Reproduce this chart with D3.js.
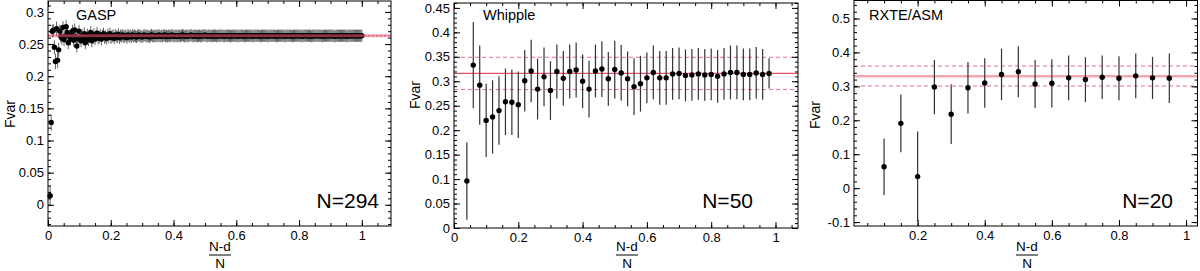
<!DOCTYPE html>
<html><head><meta charset="utf-8">
<script src="https://cdn.jsdelivr.net/npm/d3@7/dist/d3.min.js"></script>
<style>
html,body{margin:0;padding:0;background:#fff;}
svg{display:block;font-family:"Liberation Sans",Arial,Helvetica,sans-serif;}
</style>
</head><body>
<svg id="chart" width="1200" height="271"></svg>
<script>
// ---------------- DATA ----------------
// Panel 1: GASP (N = 294), x = (N-d)/N for d index k = 2..294
const gaspN = 294;
const gaspK0 = 2;
const gaspY = [
.014,.128,.270,.271,.245,.223,.274,.225,.241,.270,.262,.259,.276,.257,.262,.277,.268,.252,.262,.258,
.265,.270,.256,.272,.262,.247,.258,.270,.260,.255,.263,.258,.266,.252,.260,.264,.257,.262,.268,.255,
.260,.265,.258,.262,.267,.259,.261,.264,.258,.263,.266,.260,.262,.259,.264,.261,.266,.260,.262,.263,
.259,.264,.262,.261,.265,.260,.263,.262,.264,.261,.262,.263,.260,.264,.262,.263,.261,.264,.262,.263,
.262,.261,.263,.264,.262,.263,.261,.262,.264,.263,.262,.263,.262,.261,.263,.264,.262,.263,.262,.263,
.263,.262,.264,.262,.263,.262,.263,.264,.262,.263,.262,.263,.263,.262,.264,.263,.262,.263,.263,.262,
.263,.263,.262,.263,.264,.263,.262,.263,.263,.262,.263,.263,.264,.263,.262,.263,.263,.263,.262,.263,
.263,.262,.263,.263,.263,.264,.263,.262,.263,.263,.263,.262,.263,.263,.263,.263,.262,.263,.263,.263,
.263,.263,.263,.262,.263,.263,.263,.263,.263,.262,.263,.263,.263,.263,.263,.263,.262,.263,.263,.263,
.263,.263,.262,.263,.263,.263,.263,.263,.263,.263,.262,.263,.263,.263,.263,.263,.263,.262,.263,.263,
.263,.263,.263,.263,.262,.263,.263,.263,.263,.263,.263,.263,.262,.263,.263,.263,.263,.263,.263,.263,
.262,.263,.263,.263,.263,.263,.263,.262,.263,.263,.263,.263,.263,.263,.263,.263,.262,.263,.263,.263,
.263,.263,.263,.263,.263,.262,.263,.263,.263,.263,.263,.263,.263,.263,.263,.262,.263,.263,.263,.263,
.263,.263,.263,.263,.263,.263,.263,.262,.263,.263,.263,.263,.263,.263,.263,.263,.263,.263,.262,.263,
.263,.263,.263,.263,.263,.263,.263,.263,.263,.263,.263,.263,.263
];
const gaspErr = [
.016,.013,.010,.010,.011,.012,.011,.012,.011,.010,.010,.010,.010,.010,.010,.010,.010,.010,.010,.010,
.010,.010,.010,.010,.010,.010,.010,.010,.010,.010,.010,.010,.010,.010,.010,.010,.010,.010,.010,.010,
.0097,.0097,.0097,.0097,.0097,.0097,.0097,.0097,.0097,.0097,.0097,.0097,.0097,.0097,.0097,.0097,.0097,.0097,.0097,.0097,
.0096,.0096,.0096,.0096,.0096,.0096,.0096,.0096,.0096,.0096,.0096,.0096,.0096,.0096,.0096,.0096,.0096,.0096,.0096,.0096,
.0095,.0095,.0095,.0095,.0095,.0095,.0095,.0095,.0095,.0095,.0095,.0095,.0095,.0095,.0095,.0095,.0095,.0095,.0095,.0095,
.0095,.0095,.0095,.0095,.0095,.0095,.0095,.0095,.0095,.0095,.0095,.0095,.0095,.0095,.0095,.0095,.0095,.0095,.0095,.0095,
.0095,.0095,.0095,.0095,.0095,.0095,.0095,.0095,.0095,.0095,.0095,.0095,.0095,.0095,.0095,.0095,.0095,.0095,.0095,.0095,
.0095,.0095,.0095,.0095,.0095,.0095,.0095,.0095,.0095,.0095,.0095,.0095,.0095,.0095,.0095,.0095,.0095,.0095,.0095,.0095,
.0095,.0095,.0095,.0095,.0095,.0095,.0095,.0095,.0095,.0095,.0095,.0095,.0095,.0095,.0095,.0095,.0095,.0095,.0095,.0095,
.0095,.0095,.0095,.0095,.0095,.0095,.0095,.0095,.0095,.0095,.0095,.0095,.0095,.0095,.0095,.0095,.0095,.0095,.0095,.0095,
.0095,.0095,.0095,.0095,.0095,.0095,.0095,.0095,.0095,.0095,.0095,.0095,.0095,.0095,.0095,.0095,.0095,.0095,.0095,.0095,
.0095,.0095,.0095,.0095,.0095,.0095,.0095,.0095,.0095,.0095,.0095,.0095,.0095,.0095,.0095,.0095,.0095,.0095,.0095,.0095,
.0095,.0095,.0095,.0095,.0095,.0095,.0095,.0095,.0095,.0095,.0095,.0095,.0095,.0095,.0095,.0095,.0095,.0095,.0095,.0095,
.0095,.0095,.0095,.0095,.0095,.0095,.0095,.0095,.0095,.0095,.0095,.0095,.0095,.0095,.0095,.0095,.0095,.0095,.0095,.0095,
.0095,.0095,.0095,.0095,.0095,.0095,.0095,.0095,.0095,.0095,.0095,.0095,.0095
];
const gaspX = gaspY.map((v, i) => (i + gaspK0) / gaspN);
const gaspRef = [0.263];

// Panel 2: Whipple (N = 50)
const whippleX = [0.04,0.06,0.08,0.10,0.12,0.14,0.16,0.18,0.20,0.22,0.24,0.26,0.28,0.30,0.32,0.34,0.36,0.38,0.40,0.42,0.44,0.46,0.48,0.50,
  0.52,0.54,0.56,0.58,0.60,0.62,0.64,0.66,0.68,0.70,0.72,0.74,0.76,0.78,0.80,0.82,0.84,0.86,0.88,0.90,0.92,0.94,0.96,0.98];
const whippleY = [0.096,0.333,0.292,0.220,0.227,0.240,0.258,0.257,0.252,0.301,0.321,0.284,0.309,0.281,0.320,0.306,0.320,0.323,0.300,0.284,0.321,0.325,0.305,0.324,
  0.317,0.305,0.289,0.295,0.307,0.318,0.307,0.307,0.315,0.316,0.312,0.313,0.315,0.313,0.314,0.310,0.315,0.318,0.318,0.314,0.314,0.317,0.314,0.316];
const whippleErr = [0.079,0.088,0.081,0.075,0.075,0.070,0.068,0.067,0.068,0.063,0.064,0.062,0.060,0.060,0.055,0.056,0.055,0.056,0.055,0.058,0.054,0.057,0.055,0.059,
  0.057,0.056,0.058,0.057,0.052,0.055,0.055,0.055,0.053,0.053,0.053,0.053,0.053,0.053,0.053,0.054,0.053,0.055,0.055,0.053,0.053,0.053,0.052,0.031];
const whippleRef = [0.316, 0.349, 0.283];

// Panel 3: RXTE/ASM (N = 20)
const rxteX = [0.10,0.15,0.20,0.25,0.30,0.35,0.40,0.45,0.50,0.55,0.60,0.65,0.70,0.75,0.80,0.85,0.90,0.95];
const rxteY = [0.063,0.191,0.034,0.298,0.218,0.296,0.310,0.335,0.343,0.307,0.309,0.325,0.320,0.327,0.324,0.331,0.325,0.324];
const rxteErr = [0.083,0.085,0.133,0.080,0.088,0.076,0.073,0.076,0.075,0.071,0.071,0.066,0.066,0.064,0.065,0.066,0.062,0.073];
const rxteRef = [0.330, 0.360, 0.301];

// Tick values / labels
const xTicks12 = [0,0.2,0.4,0.6,0.8,1];
const xTickLabels12 = ["0","0.2","0.4","0.6","0.8","1"];
const xTicks3 = [0.2,0.4,0.6,0.8,1];
const xTickLabels3 = ["0.2","0.4","0.6","0.8","1"];
const gaspYTicks = [0,0.05,0.1,0.15,0.2,0.25,0.3];
const gaspYTickLabels = ["0","0.05","0.1","0.15","0.2","0.25","0.3"];
const whippleYTicks = [0,0.05,0.1,0.15,0.2,0.25,0.3,0.35,0.4,0.45];
const whippleYTickLabels = ["0","0.05","0.1","0.15","0.2","0.25","0.3","0.35","0.4","0.45"];
const rxteYTicks = [-0.1,0,0.1,0.2,0.3,0.4,0.5];
const rxteYTickLabels = ["-0.1","0","0.1","0.2","0.3","0.4","0.5"];

const titles = ["GASP","Whipple","RXTE/ASM"];
const nLabels = ["N=294","N=50","N=20"];

// ---------------- LAYOUT ----------------
const panels = [
  {title:titles[0], nLabel:nLabels[0], xs:gaspX, ys:gaspY, es:gaspErr, ref:gaspRef, kind:"gasp",
   L:48, R:391, T:1, B:226, xDom:[0,1.093], yDom:[-0.033,0.317],
   xT:xTicks12, xTL:xTickLabels12, yT:gaspYTicks, yTL:gaspYTickLabels, yMinor:0.01, xMinor:0.05,
   titleX:76, titleY:20, nX:379, nY:208, yLabX:15, yLabY:114, xLabX:220},
  {title:titles[1], nLabel:nLabels[1], xs:whippleX, ys:whippleY, es:whippleErr, ref:whippleRef, kind:"std",
   L:454, R:798, T:3, B:228, xDom:[0,1.07], yDom:[0,0.46],
   xT:xTicks12, xTL:xTickLabels12, yT:whippleYTicks, yTL:whippleYTickLabels, yMinor:0.01, xMinor:0.05,
   titleX:483, titleY:20, nX:753, nY:208, yLabX:420, yLabY:95, xLabX:627},
  {title:titles[2], nLabel:nLabels[2], xs:rxteX, ys:rxteY, es:rxteErr, ref:rxteRef, kind:"rxte",
   L:854, R:1197.5, T:0.5, B:226, xDom:[0.0104,1.034], yDom:[-0.1115,0.553],
   xT:xTicks3, xTL:xTickLabels3, yT:rxteYTicks, yTL:rxteYTickLabels, yMinor:0.02, xMinor:0.05,
   titleX:869, titleY:20, nX:1173, nY:208, yLabX:820, yLabY:115, xLabX:1027}
];

const svg = d3.select("#chart");

function minorTicks(dom, step){
  const out = [];
  const s = Math.ceil(dom[0]/step - 1e-9), e = Math.floor(dom[1]/step + 1e-9);
  for (let i = s; i <= e; i++) out.push(+(i*step).toFixed(6));
  return out;
}

panels.forEach(p => {
  const g = svg.append("g");
  const x = d3.scaleLinear().domain(p.xDom).range([p.L, p.R]);
  const y = d3.scaleLinear().domain(p.yDom).range([p.B, p.T]);

  const refG = g.append("g");
  if (p.kind === "std") {
    refG.append("line").attr("x1",p.L).attr("x2",p.R).attr("y1",y(p.ref[0])).attr("y2",y(p.ref[0]))
      .attr("stroke","#e4506e").attr("stroke-width",1.2);
    [p.ref[1],p.ref[2]].forEach(v => refG.append("line").attr("x1",p.L).attr("x2",p.R)
      .attr("y1",y(v)).attr("y2",y(v)).attr("stroke","#e6708a").attr("stroke-width",1)
      .attr("stroke-dasharray","4,3"));
  } else if (p.kind === "rxte") {
    refG.append("line").attr("x1",p.L).attr("x2",p.R).attr("y1",y(p.ref[0])).attr("y2",y(p.ref[0]))
      .attr("stroke","#f2a7b3").attr("stroke-width",2.5);
    [p.ref[1],p.ref[2]].forEach(v => refG.append("line").attr("x1",p.L).attr("x2",p.R)
      .attr("y1",y(v)).attr("y2",y(v)).attr("stroke","#e07087").attr("stroke-width",1)
      .attr("stroke-dasharray","4,3"));
  }

  // error bars
  g.append("g").selectAll("line").data(p.ys).join("line")
    .attr("x1",(d,i)=>x(p.xs[i])).attr("x2",(d,i)=>x(p.xs[i]))
    .attr("y1",(d,i)=>y(d + p.es[i])).attr("y2",(d,i)=>y(d - p.es[i]))
    .attr("stroke", p.kind==="gasp" ? "#555" : "#333")
    .attr("stroke-width", p.kind==="gasp" ? 0.9 : 1.2);

  // points
  g.append("g").selectAll("circle").data(p.ys).join("circle")
    .attr("cx",(d,i)=>x(p.xs[i])).attr("cy",d=>y(d)).attr("r",2.7).attr("fill","#000");

  if (p.kind === "gasp") {
    refG.raise();
    refG.append("line").attr("x1",p.L).attr("x2",p.R).attr("y1",y(p.ref[0])).attr("y2",y(p.ref[0]))
      .attr("stroke","rgba(238,90,125,0.55)").attr("stroke-width",3);
    refG.append("line").attr("x1",p.L).attr("x2",p.R).attr("y1",y(p.ref[0])).attr("y2",y(p.ref[0]))
      .attr("stroke","rgba(200,40,80,0.7)").attr("stroke-width",1).attr("stroke-dasharray","2,2");
  }

  // axes (ticks inward on all four sides)
  const ax = g.append("g");
  const yMin = minorTicks(p.yDom, p.yMinor);
  const xMin = minorTicks(p.xDom, p.xMinor);
  const fmtY = d => p.yTL[p.yT.indexOf(d)];
  const fmtX = d => p.xTL[p.xT.indexOf(d)];

  const addAxis = (axis, tr) => {
    const a = ax.append("g").attr("transform",tr).call(axis);
    a.attr("font-family",null).attr("font-size",13);
    a.select(".domain").remove();
    a.selectAll("text").attr("fill","#000");
    a.selectAll("line").attr("stroke","#000");
    return a;
  };
  addAxis(d3.axisLeft(y).tickValues(yMin).tickSize(-3).tickFormat(""), `translate(${p.L},0)`);
  addAxis(d3.axisLeft(y).tickValues(p.yT).tickSize(-6).tickPadding(4).tickFormat(fmtY), `translate(${p.L},0)`);
  addAxis(d3.axisRight(y).tickValues(yMin).tickSize(-3).tickFormat(""), `translate(${p.R},0)`);
  addAxis(d3.axisRight(y).tickValues(p.yT).tickSize(-6).tickFormat(""), `translate(${p.R},0)`);
  addAxis(d3.axisBottom(x).tickValues(xMin).tickSize(-3).tickFormat(""), `translate(0,${p.B})`);
  addAxis(d3.axisBottom(x).tickValues(p.xT).tickSize(-6).tickPadding(5).tickFormat(fmtX), `translate(0,${p.B})`);
  addAxis(d3.axisTop(x).tickValues(xMin).tickSize(-3).tickFormat(""), `translate(0,${p.T})`);
  addAxis(d3.axisTop(x).tickValues(p.xT).tickSize(-6).tickFormat(""), `translate(0,${p.T})`);

  // frame
  g.append("rect").attr("x",p.L).attr("y",p.T).attr("width",p.R-p.L).attr("height",p.B-p.T)
    .attr("fill","none").attr("stroke","#000").attr("stroke-width",1);

  // texts
  g.append("text").attr("x",p.titleX).attr("y",p.titleY).attr("font-size",14.5).text(p.title);
  g.append("text").attr("x",p.nX).attr("y",p.nY).attr("font-size",21).attr("text-anchor","end").text(p.nLabel);
  g.append("text").attr("transform",`translate(${p.yLabX},${p.yLabY}) rotate(-90)`)
    .attr("font-size",14).attr("text-anchor","middle").text("Fvar");
  g.append("text").attr("x",p.xLabX).attr("y",251).attr("font-size",13.5).attr("text-anchor","middle").text("N-d");
  g.append("line").attr("x1",p.xLabX-11).attr("x2",p.xLabX+11).attr("y1",255).attr("y2",255)
    .attr("stroke","#000").attr("stroke-width",1);
  g.append("text").attr("x",p.xLabX).attr("y",268).attr("font-size",13.5).attr("text-anchor","middle").text("N");
});
</script>
</body></html>
